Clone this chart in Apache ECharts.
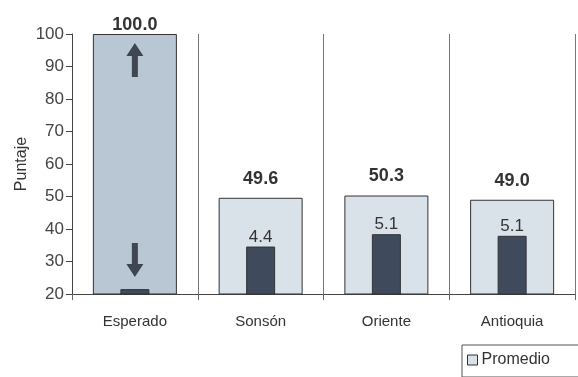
<!DOCTYPE html>
<html><head><meta charset="utf-8">
<script src="https://cdn.jsdelivr.net/npm/echarts@6/dist/echarts.min.js"></script>
<style>html,body{margin:0;padding:0;background:#fff}#c{width:578px;height:377px}</style>
</head><body><div id="c"></div>
<script>
var categories = ['Esperado', 'Sonsón', 'Oriente', 'Antioquia'];
var promedio = [100.0, 49.6, 50.3, 49.0];
var innerBar = [21.5, 34.6, 38.4, 37.9];
var innerLabels = ['', '4.4', '5.1', '5.1'];
var arrowUp = [['Esperado', 92]];
var arrowDown = [['Esperado', 30.5]];
var yTicks = [20, 30, 40, 50, 60, 70, 80, 90, 100];

var FONT = '"Liberation Sans", Arial, sans-serif';
var arrowPath = 'path://M8.5,0 L17,13 L11.5,13 L11.5,34 L5.5,34 L5.5,13 L0,13 Z';

var chart = echarts.init(document.getElementById('c'));
chart.setOption({
  animation: false,
  grid: {left: 72, right: 3, top: 34, bottom: 83},
  legend: {
    data: ['Promedio'], left: 462, top: 345, icon: 'rect',
    borderColor: '#555', borderWidth: 1, padding: [7, 30, 9, 5],
    itemWidth: 10, itemHeight: 10, itemGap: 4,
    itemStyle: {color: '#d9e1e9', borderColor: '#333', borderWidth: 1},
    textStyle: {fontFamily: FONT, fontSize: 16, color: '#333', padding: [0, 0, 0, -1]}
  },
  xAxis: [{
    type: 'category', data: categories,
    axisLine: {lineStyle: {color: '#444'}},
    axisTick: {show: true, length: 6, lineStyle: {color: '#666'}},
    splitLine: {show: true, lineStyle: {color: '#777', width: 1}},
    axisLabel: {fontFamily: FONT, fontSize: 15, color: '#333', margin: 20}
  }, {
    type: 'category', data: categories, show: false
  }],
  yAxis: {
    type: 'value', min: 20, max: 100, interval: 10,
    name: 'Puntaje', nameLocation: 'middle', nameGap: 42, nameMoveOverlap: false,
    nameTextStyle: {fontFamily: FONT, fontSize: 16, color: '#333'},
    axisLine: {show: true, lineStyle: {color: '#444'}},
    axisTick: {show: true, length: 6, lineStyle: {color: '#444'}},
    splitLine: {show: false},
    axisLabel: {fontFamily: FONT, fontSize: 17, color: '#444', margin: 8,
      formatter: function (v) { return yTicks.indexOf(v) >= 0 ? String(v) : ''; }}
  },
  series: [{
    name: 'Promedio', type: 'bar', xAxisIndex: 0, barWidth: 84,
    itemStyle: {color: '#d9e1e9', borderColor: '#333', borderWidth: 1},
    data: promedio.map(function (v, i) {
      var d = {value: v};
      if (i === 0) {
        d.itemStyle = {color: '#b9c7d5'};
        d.label = {distance: 0};
      }
      return d;
    }),
    label: {show: true, position: 'top', distance: 10,
      fontFamily: FONT, fontSize: 18, fontWeight: 'bold', color: '#333',
      formatter: function (p) { return p.value.toFixed(1); }}
  }, {
    name: 'Desv', type: 'bar', xAxisIndex: 1, barWidth: 29,
    itemStyle: {color: '#3f4a5c', borderColor: '#333', borderWidth: 1},
    data: innerBar,
    label: {show: true, position: 'top', distance: 1,
      fontFamily: FONT, fontSize: 17, color: '#333',
      formatter: function (p) { return innerLabels[p.dataIndex]; }}
  }, {
    name: 'up', type: 'scatter', xAxisIndex: 0,
    symbol: arrowPath, symbolSize: [17, 34],
    itemStyle: {color: '#1f2630'}, data: arrowUp
  }, {
    name: 'down', type: 'scatter', xAxisIndex: 0,
    symbol: arrowPath, symbolSize: [17, 34], symbolRotate: 180,
    itemStyle: {color: '#1f2630'}, data: arrowDown
  }]
});
</script></body></html>
